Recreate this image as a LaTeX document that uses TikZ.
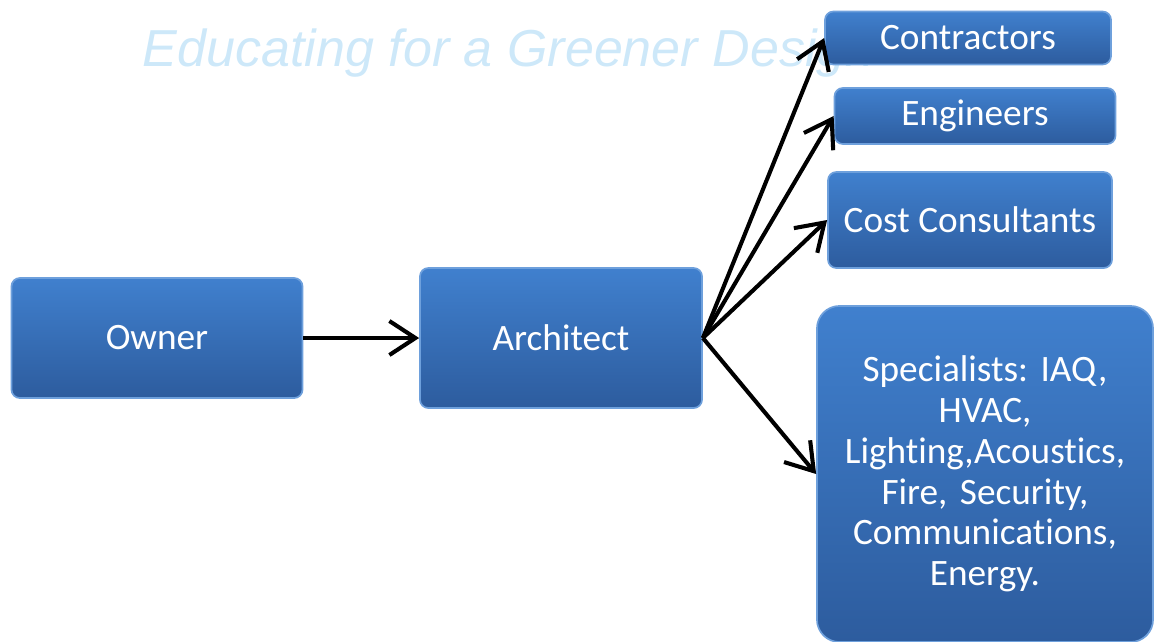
\documentclass[tikz,border=0pt]{standalone}
\usepackage{fontspec}
\setmainfont{Carlito}[Ligatures={NoCommon}]
\newfontfamily\markfont{Liberation Sans}
\usetikzlibrary{arrows.meta}

\definecolor{boxTop}{RGB}{64,128,206}
\definecolor{boxBottom}{RGB}{45,92,158}
\definecolor{boxEdge}{RGB}{110,160,220}
\definecolor{markBlue}{RGB}{205,232,249}

\tikzstyle{roleBox}=[rectangle,rounded corners=6pt,top color=boxTop,bottom color=boxBottom,draw=boxEdge,line width=1.2pt,text=white,font=\fontsize{26.5}{29}\selectfont\frenchspacing,align=center]
\tikzstyle{linkArrow}=[-{Straight Barb[length=6.5mm,width=8.5mm,line width=2.9pt]},line width=2.9pt,black]

\begin{document}
\begin{tikzpicture}[x=0.025cm,y=-0.025cm]

  \useasboundingbox (0,0) rectangle (1154,641);
  \clip (0,0) rectangle (1154,641);

  \node[font=\markfont\itshape\fontsize{37}{40}\selectfont,text=markBlue,anchor=base west] (mark) at (138,66) {Educating for a Greener Design};

  \node[roleBox,minimum width=7.275cm,minimum height=3cm] (owner) at (157,338) {Owner};
  \node[roleBox,minimum width=7.05cm,minimum height=3.5cm] (arch) at (561,338) {Architect};
  \node[roleBox,minimum width=7.15cm,minimum height=1.325cm] (contr) at (968,38) {Contractors};
  \node[roleBox,minimum width=7.025cm,minimum height=1.4cm] (eng) at (975,116) {Engineers};
  \node[roleBox,minimum width=7.1cm,minimum height=2.4cm] (cost) at (970,220) {Cost Consultants};
  \node[roleBox,rounded corners=16pt,minimum width=8.4cm,minimum height=8.4cm,text width=7.9cm] (spec) at (985,474) {Specialists: IAQ,\\HVAC,\\Lighting,Acoustics,\\Fire, Security,\\Communications,\\Energy.};

  \draw[linkArrow] (owner) -- (arch);
  \draw[linkArrow] (arch.east) -- (contr.west);
  \draw[linkArrow] (arch.east) -- (eng.west);
  \draw[linkArrow] (arch.east) -- (cost.west);
  \draw[linkArrow] (arch.east) -- (spec.west);

\end{tikzpicture}
\end{document}
